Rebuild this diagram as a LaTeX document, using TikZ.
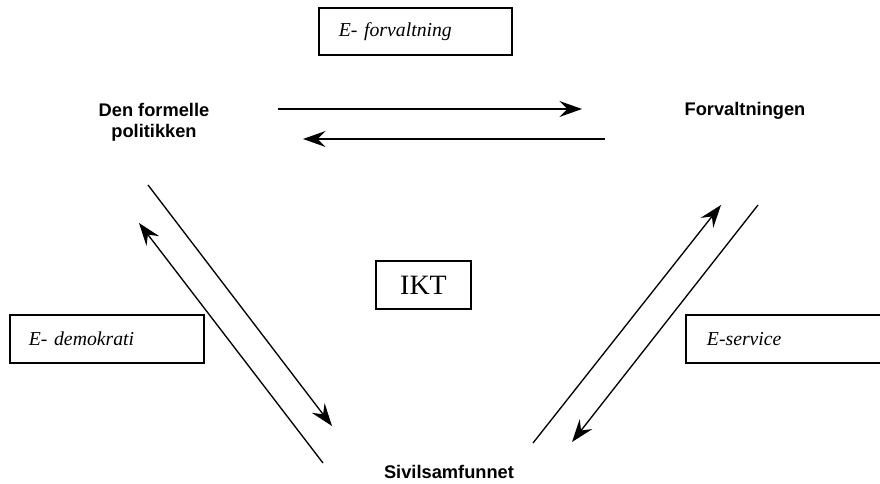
\documentclass[tikz,border=0pt]{standalone}
\usepackage{fontspec}
\setmainfont{Liberation Serif}
\setsansfont{Liberation Sans}
\usepackage{xcolor}
\usetikzlibrary{arrows.meta}
\definecolor{cInk}{HTML}{000000}

\begin{document}
\begin{tikzpicture}[x=0.75pt, y=-0.75pt,
    ebox/.style={draw=cInk, line width=1.4pt, anchor=north west, align=left,
      inner ysep=0pt, font=\fontsize{14.8}{17}\selectfont\itshape},
    actor/.style={font=\sffamily\bfseries\fontsize{13.7}{15.8}\selectfont,
      align=center, inner sep=0pt, text=cInk},
    flow/.style={-{Stealth[length=17pt, width=12pt, inset=6pt]}, line width=1.3pt, draw=cInk},
    slant/.style={flow, line width=1pt}]
        \useasboundingbox (0,0) rectangle (880,484);
        \clip (0,0) rectangle (880,484);
        % actors
        \node[actor] (politikk) at (154,122) {Den formelle\\politikken};
        \node[actor, anchor=base] (forvaltning) at (745,116) {Forvaltningen};
        \node[actor, anchor=base] (sivil) at (449,478) {Sivilsamfunnet};
        % boxes
        \node[ebox, text width=114.75pt, inner xsep=15pt, minimum height=35.25pt] (eforv) at (318,7) {E- forvaltning};
        \node[ebox, text width=117pt, inner xsep=14.25pt, minimum height=36pt] (edemo) at (9,314) {E- demokrati};
        \node[ebox, text width=118.5pt, inner xsep=15.75pt, minimum height=36pt] (eserv) at (685,314) {E-service};
        \node[draw=cInk, line width=1.4pt, minimum width=71.25pt, minimum height=36pt,
              font=\fontsize{21}{24}\selectfont] (ikt) at (423.5,285) {IKT};
        % arrow ends
        \coordinate (polOut) at (278,109);
        \coordinate (forvIn) at (582,109);
        \coordinate (forvOut) at (605,139);
        \coordinate (polIn) at (303,139);
        \coordinate (polDown) at (148,185);
        \coordinate (sivIn) at (332,426);
        \coordinate (sivOut) at (323,463);
        \coordinate (polUp) at (139,223);
        \coordinate (sivUp) at (533,443);
        \coordinate (forvUp) at (721,205);
        \coordinate (forvDown) at (758,205);
        \coordinate (sivDown) at (572,442);
        \draw[flow] (polOut) -- (forvIn);
        \draw[flow] (forvOut) -- (polIn);
        \draw[slant] (polDown) -- (sivIn);
        \draw[slant] (sivOut) -- (polUp);
        \draw[slant] (sivUp) -- (forvUp);
        \draw[slant] (forvDown) -- (sivDown);
\end{tikzpicture}
\end{document}
